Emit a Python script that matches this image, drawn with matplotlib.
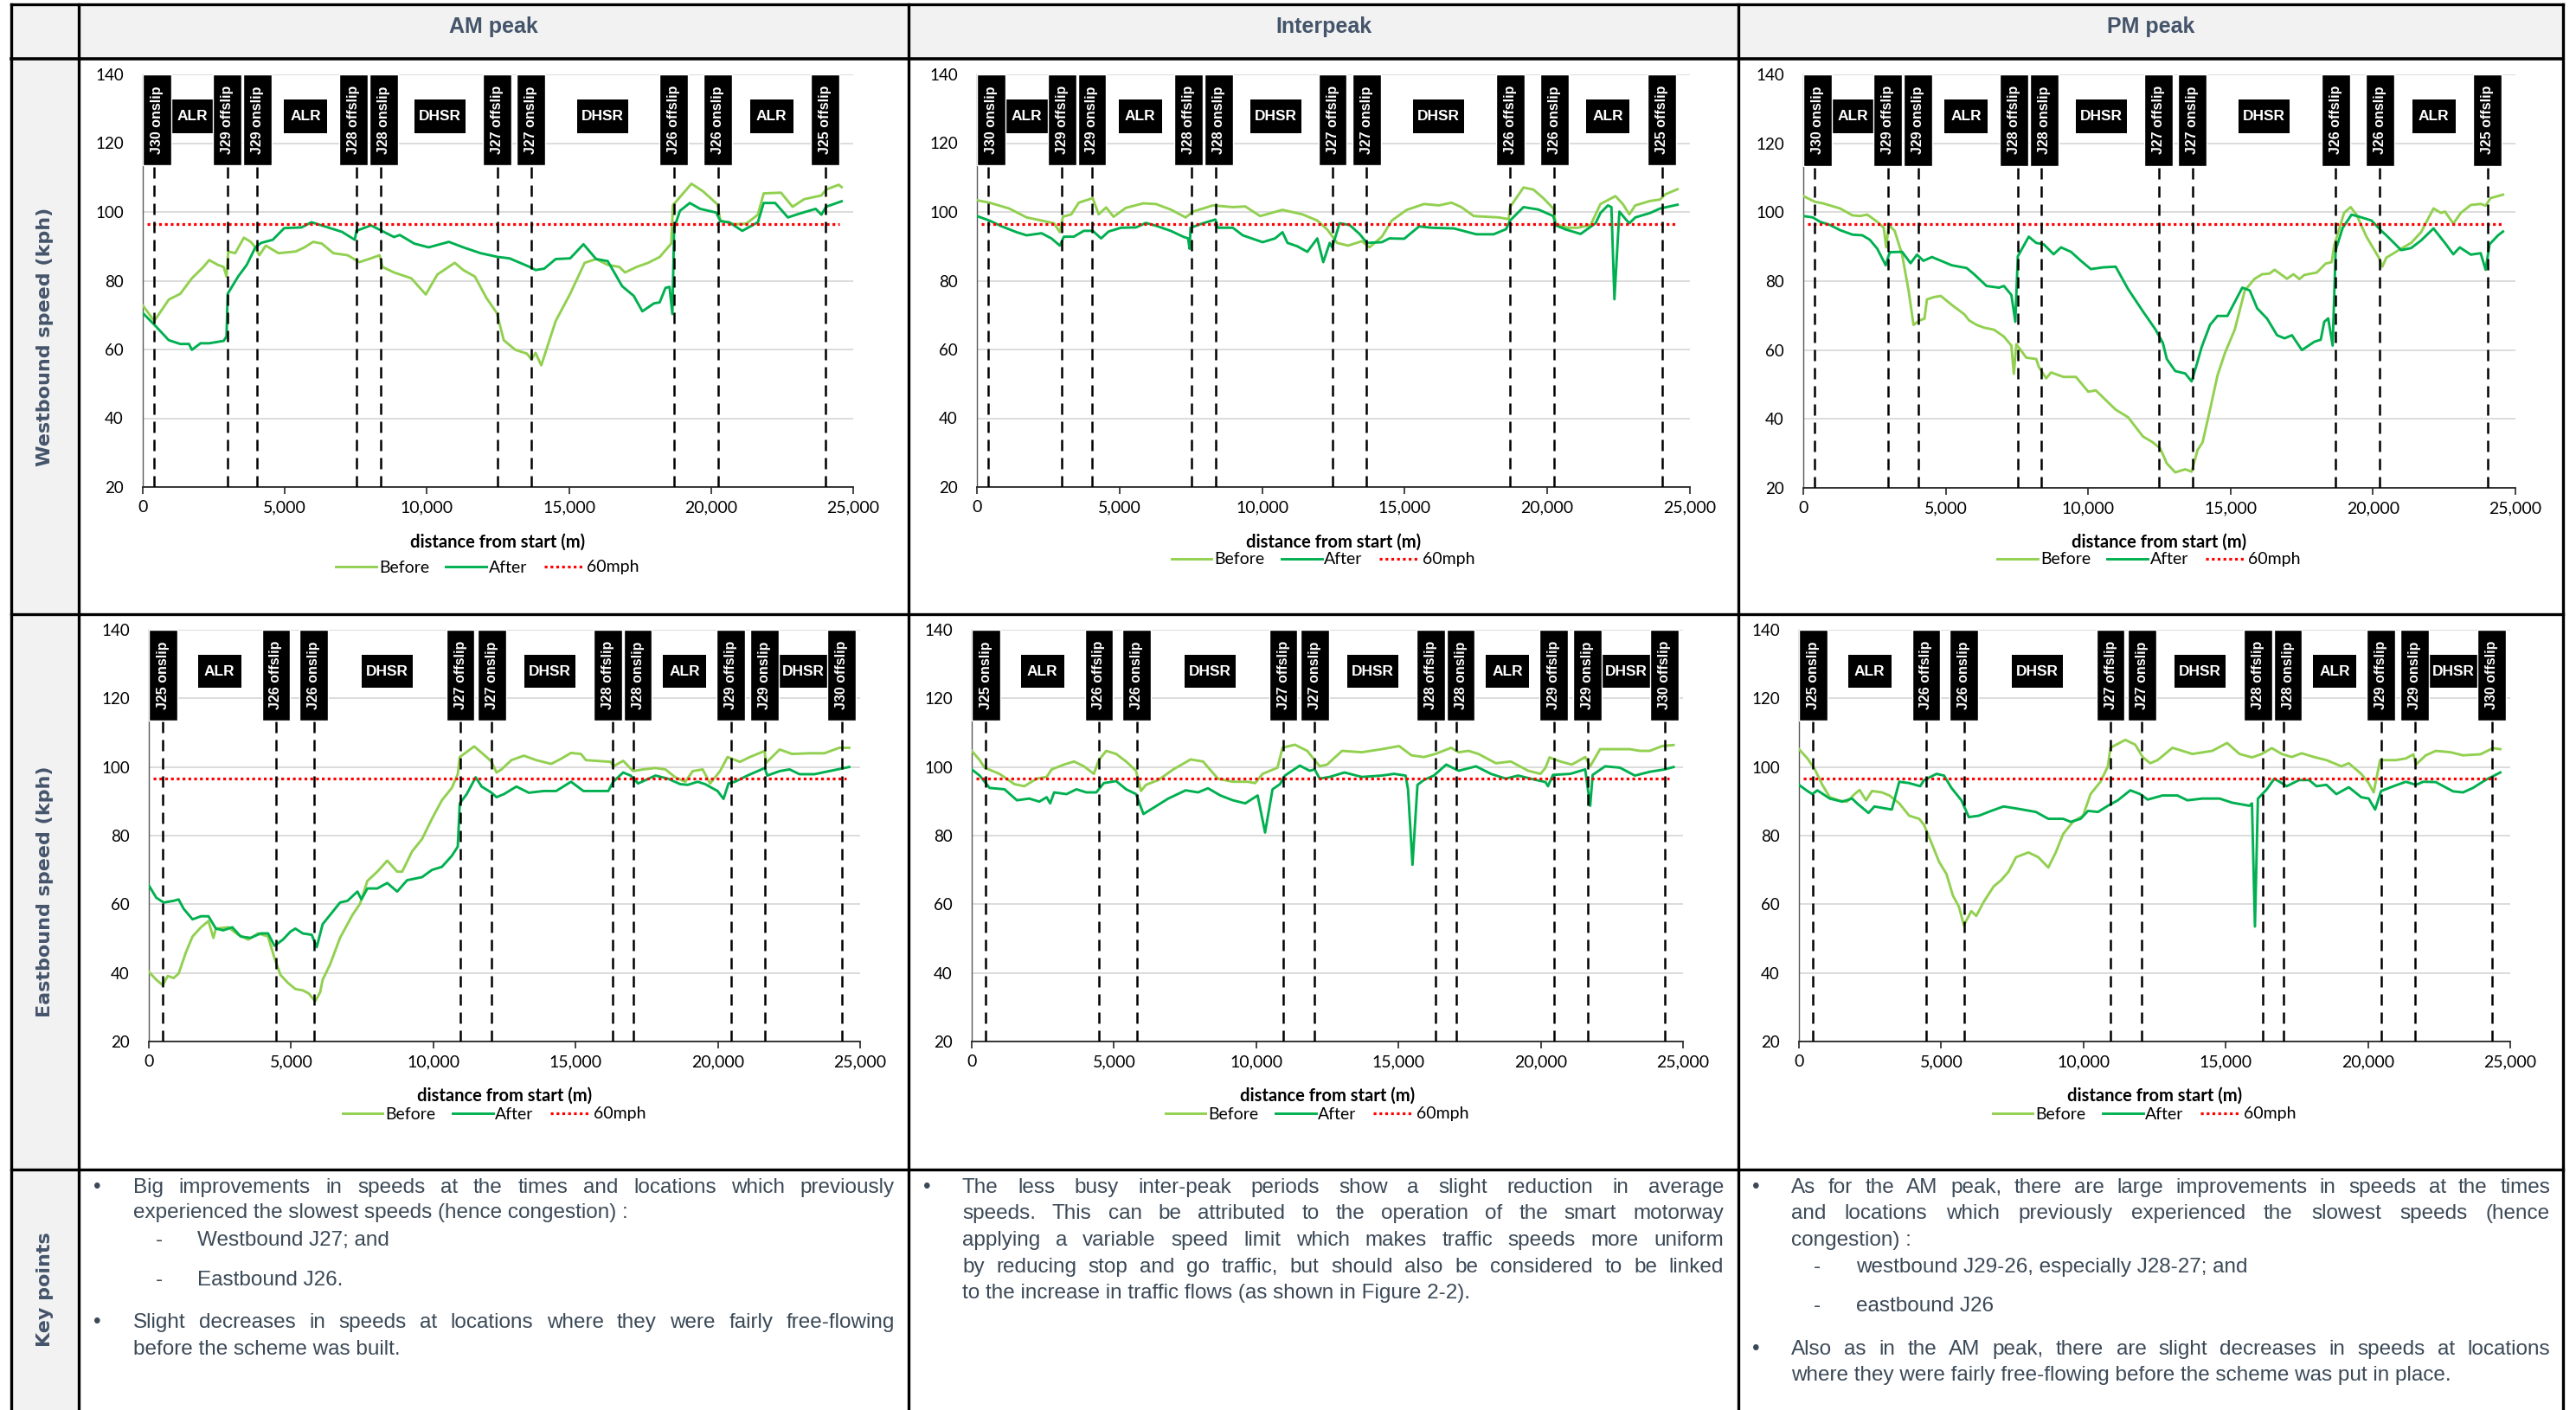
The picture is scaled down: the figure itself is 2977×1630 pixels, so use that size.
import matplotlib
matplotlib.use('Agg')
import matplotlib.pyplot as plt
from matplotlib.patches import Rectangle
from matplotlib.lines import Line2D
from matplotlib.ticker import FuncFormatter
from matplotlib import font_manager

W, H = 2977, 1630

# ------------------------------------------------------------------ data
speed_limit_kph = 96.56  # 60 mph

wb_junctions = [400, 2980, 4030, 7520, 8360, 12470, 13660, 18690, 20240, 24020]
wb_junction_labels = ['J30 onslip', 'J29 offslip', 'J29 onslip', 'J28 offslip', 'J28 onslip',
                      'J27 offslip', 'J27 onslip', 'J26 offslip', 'J26 onslip', 'J25 offslip']
wb_sections = [('ALR', 0, 1), ('ALR', 2, 3), ('DHSR', 4, 5), ('DHSR', 6, 7), ('ALR', 8, 9)]

eb_junctions = [490, 4470, 5800, 10950, 12050, 16290, 17020, 20460, 21650, 24350]
eb_junction_labels = ['J25 onslip', 'J26 offslip', 'J26 onslip', 'J27 offslip', 'J27 onslip',
                      'J28 offslip', 'J28 onslip', 'J29 offslip', 'J29 onslip', 'J30 offslip']
eb_sections = [('ALR', 0, 1), ('DHSR', 2, 3), ('DHSR', 4, 5), ('ALR', 6, 7), ('DHSR', 8, 9)]

column_titles = ['AM peak', 'Interpeak', 'PM peak']
row_titles = ['Westbound speed (kph)', 'Eastbound speed (kph)', 'Key points']
series_names = ['Before', 'After', '60mph']

# Westbound AM
wb_am_before_x = [0, 406, 915, 1321, 1728, 2134, 2337, 2642, 2846, 2947, 3008, 3252, 3557, 3800, 3963, 4100,
                  4330, 4776, 5386, 5691, 5996, 6301, 6707, 7215, 7622, 8028, 8333, 8435, 8841, 9451, 9959,
                  10366, 10976, 11280, 11687, 12093, 12459, 12703, 13110, 13516, 13679, 13821, 14024, 14532,
                  15041, 15549, 15955, 16362, 16768, 16972, 17378, 17785, 18191, 18598, 18659, 18902, 19309,
                  19715, 20224, 20325, 20833, 21240, 21646, 21850, 22459, 22866, 23272, 23882, 24045, 24492, 24593]
wb_am_before_kph = [72.8, 68.3, 74.5, 76.2, 80.7, 84, 86, 84.6, 84, 81.2, 88.5, 88, 92.5, 91.3, 89.7, 87.4,
                    90.2, 88, 88.5, 89.7, 91.3, 90.8, 88, 87.4, 85.4, 86.5, 87.4, 84, 82.4, 80.7, 76,
                    81.8, 85.2, 83.1, 81.2, 75, 70.6, 62.7, 59.9, 58.8, 57.1, 59, 55.4, 68.3,
                    76.2, 85.2, 86.3, 84.6, 84, 82.4, 84, 85.2, 86.9, 90.8, 102, 104.3, 108.2,
                    106, 102.2, 97.5, 96.4, 96.6, 99.2, 105.4, 105.6, 101.5, 103.7, 104.8, 106.5, 107.9, 107.2]
wb_am_after_x = [0, 406, 915, 1321, 1626, 1728, 2033, 2337, 2846, 2947, 2988, 3354, 3659, 3963, 4167, 4573,
                 4980, 5589, 5935, 6402, 7012, 7459, 7520, 8028, 8435, 8841, 9045, 9553, 10061, 10772, 11280,
                 11890, 12500, 12906, 13618, 13821, 14126, 14532, 15041, 15508, 15955, 16362, 16870, 17276,
                 17581, 17988, 18191, 18394, 18537, 18638, 18699, 18902, 19248, 19614, 20183, 20325, 20630,
                 21098, 21646, 21850, 22256, 22703, 23069, 23679, 23882, 24045, 24593]
wb_am_after_kph = [70.6, 67.2, 62.7, 61.6, 61.6, 59.9, 61.8, 61.8, 62.5, 63.8, 76.2, 81.2, 84.6, 89.7, 91, 91.9,
                   95.3, 95.5, 97, 95.8, 94.2, 91.9, 94.5, 96.1, 94.4, 92.7, 93.3, 90.8, 89.7, 91.3, 89.7,
                   88, 86.9, 86.5, 84, 83.1, 83.5, 86.3, 86.5, 90.6, 86.3, 85.7, 78.4, 75.6,
                   71.1, 73.4, 73.7, 77.9, 78.2, 70.3, 95.3, 100.3, 102.6, 100.9, 99.8, 97.3, 97,
                   94.5, 97, 102.6, 102.6, 98.4, 99.4, 100.9, 99.2, 101.5, 103.1]

# Westbound Interpeak
wb_ip_before_x = [0, 436, 1132, 1742, 2265, 2700, 2909, 3014, 3310, 3571, 4059, 4268, 4530, 4791, 5226, 5836,
                  6272, 6794, 7317, 7578, 8275, 8972, 9408, 9930, 10714, 11411, 11934, 12282, 12631, 13014,
                  13502, 13763, 14199, 14547, 15070, 15679, 16202, 16638, 16986, 17422, 17857, 18293, 18641,
                  18693, 19164, 19512, 19861, 20209, 20296, 20732, 21080, 21516, 21864, 22387, 22648, 22875,
                  23084, 23606, 23955, 24129, 24564]
wb_ip_before_kph = [103.4, 102.7, 101, 98.4, 97.5, 96.7, 94.1, 98.6, 99.3, 102.7, 104, 99.3, 101.3, 98.6, 101.2, 102.5,
                    102.3, 100.7, 98.4, 100.1, 101.9, 101.4, 101.6, 98.8, 100.6, 99.3, 97.5, 94.9, 91, 90.2,
                    91.5, 89.7, 92.8, 97.5, 100.6, 102.3, 101.9, 102.7, 101.4, 98.8, 98.6, 98.4, 97.9,
                    101.4, 107.1, 106.5, 104, 101, 96.4, 95.4, 95.4, 96.2, 102.3, 104.6, 102.3, 99.3,
                    101.9, 103.2, 103.6, 105.1, 106.6]
wb_ip_after_x = [0, 436, 871, 1394, 1742, 2265, 2613, 2909, 3049, 3397, 3746, 4059, 4355, 4617, 5052, 5575,
                 5923, 6272, 6794, 7230, 7404, 7456, 7491, 7927, 8362, 8449, 8972, 9321, 10017, 10453, 10714,
                 10889, 11237, 11585, 11934, 12143, 12369, 12456, 12718, 13066, 13415, 13676, 14199, 14460,
                 14983, 15505, 15941, 16725, 17509, 18118, 18554, 18693, 19164, 19686, 20209, 20296, 20645,
                 21167, 21690, 21864, 22125, 22247, 22352, 22526, 22735, 22875, 23084, 23606, 23955, 24564]
wb_ip_after_kph = [98.8, 97.5, 95.8, 94.1, 93.2, 93.8, 92.3, 90.2, 92.8, 92.8, 94.5, 94.5, 92.3, 94.3, 95.4, 95.5,
                   96.8, 96, 94.5, 92.8, 92.3, 89.3, 95.4, 96.7, 97.8, 95.4, 95.4, 93.2, 91.2, 92.3, 94.1,
                   91, 90, 88.4, 92.3, 85.4, 91, 89.7, 96.7, 96.2, 93.6, 91, 91.2, 92.3,
                   92.2, 95.8, 95.4, 95.2, 93.5, 93.5, 95, 97.5, 101.4, 100.7, 98.8, 96.1, 94.9,
                   93.6, 96.7, 99.7, 101.9, 101.4, 74.6, 100.1, 98, 96.7, 98.4, 99.7, 101, 102.1]

# Westbound PM
wb_pm_before_x = [0, 244, 418, 680, 1290, 1726, 1987, 2249, 2598, 2824, 2911, 2999, 3208, 3469, 3696, 3870,
                  4079, 4254, 4341, 4603, 4829, 5213, 5649, 5823, 6085, 6346, 6695, 7043, 7305, 7392, 7479,
                  7828, 8176, 8264, 8525, 8699, 9135, 9571, 10007, 10269, 10704, 10966, 11402, 11925, 12274,
                  12535, 12762, 13058, 13407, 13633, 13842, 14017, 14278, 14540, 14801, 15150, 15499, 15847,
                  16109, 16370, 16545, 16980, 17207, 17416, 17591, 18026, 18340, 18549, 18636, 18985, 19212,
                  19421, 19770, 20206, 20328, 20467, 20903, 21339, 21688, 22123, 22385, 22524, 22820, 23082,
                  23431, 23780, 23954, 24128, 24564]
wb_pm_before_kph = [104.7, 103.7, 103, 102.6, 101.1, 99.1, 98.9, 99.3, 97.2, 95.5, 89.8, 96.3, 94.6, 87.7, 77.3, 67.3,
                    68.6, 69.1, 74.7, 75.4, 75.7, 73.1, 70.4, 68.6, 67.3, 66.5, 65.9, 63.9, 61.3, 53.1, 61.7,
                    57.8, 57.4, 55.2, 51.8, 53.5, 52.2, 52.2, 47.9, 48.3, 44.8, 42.7, 40.5, 34.9, 33.2,
                    31.4, 27.1, 24.5, 25.4, 24.7, 31, 33.2, 42.7, 52.6, 59.1, 66, 77.3, 80.7,
                    82, 82.2, 83.3, 80.7, 82, 80.6, 81.8, 82.5, 85.1, 85.5, 90.3, 99.8, 101.5,
                    99.3, 92.9, 86.8, 84.2, 86.8, 89, 91.1, 94.2, 101.1, 99.8, 100.2, 96.7, 99.8,
                    102.1, 102.4, 101.9, 104.1, 105.1]
wb_pm_after_x = [0, 331, 593, 941, 1290, 1726, 2075, 2336, 2598, 2894, 3033, 3469, 3766, 3992, 4219, 4515,
                 4777, 5213, 5736, 5997, 6433, 6869, 7043, 7305, 7444, 7531, 7915, 8176, 8438, 8787, 9048,
                 9397, 9745, 10094, 10530, 10966, 11402, 11925, 12361, 12622, 12762, 13058, 13407, 13633,
                 13808, 13982, 14278, 14540, 14889, 15412, 15674, 15935, 16283, 16632, 16894, 17155, 17504,
                 17940, 18166, 18288, 18427, 18584, 18689, 18933, 19247, 19595, 19944, 20293, 20467, 20990,
                 21339, 21688, 22123, 22524, 22820, 23047, 23431, 23780, 23954, 24093, 24390, 24564]
wb_pm_after_kph = [98.9, 98.5, 97.2, 96.3, 94.8, 93.5, 93.3, 92, 89.4, 84.6, 88.4, 88.5, 85.2, 87.7, 85.9, 87,
                   86.1, 84.6, 83.8, 82, 78.6, 78.1, 78.6, 76, 68.2, 87.2, 92.9, 91.1, 90.7, 87.8, 89.8,
                   88.5, 85.9, 83.5, 84, 84.2, 77.7, 71.2, 66, 62.1, 57.4, 53.9, 53.2, 50.9,
                   55.7, 60.8, 67.3, 69.9, 69.9, 78.1, 77.3, 72.1, 69.1, 64.3, 63.4, 64.3, 60,
                   62.4, 63, 68.2, 69.2, 61.3, 89, 95.4, 99.3, 98.5, 97.6, 94.6, 93.3, 89,
                   89.6, 91.8, 95.3, 91.1, 87.8, 89.8, 87.7, 88.1, 83.3, 90.7, 93.3, 94.4]

# Eastbound AM
eb_am_before_x = [0, 262, 489, 663, 873, 1047, 1309, 1536, 1833, 2095, 2270, 2357, 2793, 3142, 3492, 3841,
                  4190, 4417, 4626, 4888, 5150, 5412, 5621, 5848, 6023, 6110, 6372, 6721, 7158, 7420, 7682,
                  8031, 8380, 8729, 8904, 9253, 9602, 9951, 10300, 10649, 10859, 10929, 11435, 11871, 12046,
                  12221, 12395, 12745, 13181, 13617, 14141, 14490, 14839, 15188, 15363, 15887, 16236, 16323,
                  16673, 17022, 17371, 17807, 18156, 18505, 18855, 19117, 19466, 19728, 20077, 20339, 20775,
                  21125, 21648, 21683, 22172, 22608, 23219, 23743, 24267, 24616]
eb_am_before_kph = [40.3, 38, 36.4, 39.1, 38.5, 39.8, 46.1, 50.6, 53.3, 55.1, 50.2, 52.9, 53.3, 51.1, 49.7, 51.5,
                    50.6, 44.3, 39.4, 37.1, 35.3, 34.9, 34, 31.7, 34.4, 38, 42.5, 50.2, 56.9, 60.1, 66.8,
                    69.5, 72.7, 69.5, 69.5, 75.4, 79, 84.9, 90.3, 93.9, 97.9, 102.9, 106, 102.9, 101.5,
                    98.4, 99.3, 102, 103.3, 102, 100.9, 102.4, 104.1, 103.8, 102, 101.7, 101.5, 100.2,
                    101.8, 98.8, 99.3, 99.7, 99.3, 97, 95.7, 98.8, 99.3, 95.2, 98.8, 102.9, 101.5,
                    102.9, 104.7, 101.1, 105.1, 103.8, 104, 104, 105.6, 105.6]
eb_am_after_x = [0, 262, 524, 873, 1047, 1222, 1536, 1833, 2095, 2357, 2619, 2933, 3230, 3579, 3928, 4190,
                 4417, 4714, 4976, 5150, 5412, 5726, 5901, 6110, 6372, 6721, 6983, 7332, 7472, 7682, 8031,
                 8380, 8729, 9078, 9602, 9951, 10300, 10649, 10859, 10929, 11173, 11488, 11697, 12046, 12221,
                 12483, 12919, 13355, 13879, 14316, 14839, 15276, 15887, 16149, 16323, 16673, 16934, 17196,
                 17807, 18243, 18680, 18942, 19291, 19553, 19990, 20199, 20374, 20600, 21037, 21648, 21736,
                 22172, 22521, 22870, 23394, 23918, 24616]
eb_am_after_kph = [65.5, 61.9, 60.5, 61, 61.4, 58.7, 55.6, 56.5, 56.5, 52.9, 52.4, 53.3, 50.6, 50.2, 51.5, 51.5,
                   47.9, 49.7, 52, 52.9, 51.5, 51.1, 47.5, 54.2, 56.9, 60.5, 61, 63.7, 61.4, 64.6, 64.6,
                   66.2, 63.7, 67, 67.9, 70, 70.9, 74.1, 76.8, 89.4, 92.1, 97, 94.3, 92.5, 91.2,
                   92.1, 94.3, 92.5, 93, 93, 95.7, 93, 93, 93, 95.7, 98.4, 97.5, 95.2,
                   97.5, 96.6, 95, 94.8, 95.7, 95, 93, 90.7, 95.2, 95.7, 97.5, 99.7, 97.5,
                   98.8, 99.3, 97.9, 97.9, 98.8, 100]

# Eastbound Interpeak
eb_ip_before_x = [0, 279, 454, 977, 1500, 1849, 2285, 2634, 2809, 3245, 3594, 3943, 4292, 4466, 4728, 5077,
                  5426, 5775, 5949, 6123, 6560, 7083, 7694, 8130, 8654, 9177, 9700, 9962, 10223, 10747, 10921,
                  11357, 11793, 12055, 12229, 12491, 13015, 13712, 14410, 15021, 15457, 15893, 16294, 16852,
                  17114, 17463, 17812, 18423, 18946, 19557, 19993, 20167, 20307, 20691, 21092, 21563, 21737,
                  22086, 22610, 23133, 23482, 23831, 24267, 24669]
eb_ip_before_kph = [104.7, 102, 99.8, 98, 95, 94.4, 96.6, 97.1, 99.3, 100.7, 101.6, 100.2, 98, 102, 104.7, 103.8,
                    101.6, 98.9, 93, 94.8, 96.2, 99.3, 102.2, 101.6, 96.6, 95.7, 95.7, 95.3, 98, 99.8, 105.6,
                    106.5, 104.7, 102, 100.2, 100.7, 104.7, 104.3, 105.2, 106.1, 103.4, 102.9, 103.8, 105.6,
                    104.3, 104.7, 103.8, 101.1, 101.6, 98.9, 98, 99.8, 102.8, 101.6, 100.7, 102.9, 100.2,
                    105.2, 105.2, 105.2, 104.7, 104.7, 106.1, 106.4]
eb_ip_after_x = [0, 279, 628, 1151, 1588, 2024, 2373, 2634, 2756, 2896, 3332, 3681, 4030, 4379, 4641, 5077,
                 5426, 5775, 6036, 6385, 6908, 7519, 7955, 8304, 8740, 9177, 9613, 10049, 10310, 10572, 10834,
                 11008, 11531, 11880, 12055, 12229, 12578, 13102, 13712, 14410, 14846, 15248, 15335, 15492,
                 15667, 15893, 16242, 16678, 17114, 17725, 18249, 18772, 19208, 19644, 20167, 20254, 20429,
                 21040, 21563, 21737, 21825, 22261, 22784, 23308, 23831, 24354, 24669]
eb_ip_after_kph = [99.3, 97.5, 93.9, 93.5, 90.3, 90.8, 89.9, 91.2, 89.4, 92.6, 92.1, 93.5, 92.6, 92.6, 95.3, 95.9,
                   93.5, 92.1, 86.3, 88.1, 90.8, 93.2, 92.6, 93.8, 91.7, 90.3, 89.4, 91.7, 80.9, 93.5, 95,
                   97.5, 100.4, 98.9, 99.3, 96.6, 97.1, 98.4, 97.1, 97.5, 98, 97.5, 93.5, 71.5,
                   94.8, 96.2, 97.5, 100.7, 98.9, 100.2, 98, 96.6, 97.5, 96.6, 95.6, 94.4, 97.7,
                   98, 99.3, 88.7, 97.7, 100.2, 99.8, 97.5, 98.6, 99.3, 100]

# Eastbound PM
eb_pm_before_x = [0, 297, 559, 821, 1082, 1432, 1693, 1955, 2130, 2357, 2566, 2915, 3177, 3526, 3876, 4225,
                  4399, 4661, 4923, 5185, 5412, 5621, 5796, 6058, 6233, 6494, 6844, 7105, 7367, 7629, 8066,
                  8415, 8764, 9026, 9288, 9637, 9986, 10248, 10597, 10859, 10946, 11470, 11819, 12081, 12343,
                  12605, 13128, 13827, 14525, 15049, 15485, 15922, 16271, 16620, 16969, 17318, 17668, 18104,
                  18540, 19064, 19326, 19763, 20025, 20199, 20426, 20985, 21334, 21596, 21683, 22032, 22381,
                  22905, 23341, 23953, 24389, 24651]
eb_pm_before_kph = [105.2, 102.5, 99.3, 94.8, 91.2, 90.2, 89.9, 92.1, 93.3, 90.3, 93, 92.6, 91.7, 89.4, 85.8, 84.9,
                    83.1, 77.8, 72.4, 68.8, 62.5, 59.3, 53.9, 58, 56.6, 60.7, 65.2, 67, 69.5, 73.7, 75.1,
                    73.7, 70.7, 75.1, 80.5, 84.1, 85.8, 92.1, 95.7, 100.2, 105.6, 107.9, 106.5, 102.9, 101.1,
                    102, 105.6, 103.8, 104.7, 107, 103.8, 102.8, 103.8, 105.5, 103.8, 102.9, 104, 102.9,
                    102, 100.2, 101.1, 98, 95.3, 92.6, 102, 102, 102.5, 103.7, 100.7, 103.4, 104.7,
                    104.3, 103.4, 103.7, 105.5, 105.2]
eb_pm_after_x = [0, 297, 471, 646, 1082, 1519, 1868, 2043, 2444, 2654, 2915, 3264, 3526, 3876, 4260, 4399,
                 4836, 5098, 5360, 5709, 5971, 6320, 6756, 7193, 7716, 8327, 8764, 9288, 9550, 9899, 10161,
                 10510, 10859, 11208, 11645, 11994, 12256, 12779, 13303, 13652, 14176, 14787, 15223, 15834,
                 15922, 16027, 16131, 16445, 16707, 16969, 17144, 17580, 17929, 18191, 18540, 18889, 19326,
                 19763, 20025, 20251, 20461, 20897, 21334, 21683, 21945, 22381, 22992, 23341, 23690, 24127, 24651]
eb_pm_after_kph = [94.8, 93, 92.1, 93.2, 90.8, 89.9, 90.8, 89.4, 86.6, 88.5, 88.1, 87.6, 95.7, 95.3, 94.4, 96.2,
                   98, 97.5, 93.9, 90.3, 85.4, 85.8, 87.2, 88.5, 87.8, 86.9, 84.9, 84.9, 84, 84.9, 87.2,
                   86.9, 88.7, 90.3, 93.2, 92.1, 90.5, 91.7, 91.7, 90.3, 90.8, 90.8, 89.6, 88.7,
                   89.4, 53.5, 90.8, 93.5, 96.6, 95.3, 94.4, 96.2, 96.2, 94.4, 94.8, 92.1, 94.1,
                   91.2, 90.8, 87.6, 93, 94.4, 95.7, 94.8, 95.7, 95.6, 92.9, 92.6, 93.9, 96.2, 98.4]

key_points = [
    [('bullet', 'Big improvements in speeds at the times and locations which previously', True),
     ('cont', 'experienced the slowest speeds (hence congestion) :', False),
     ('dash', 'Westbound J27; and', False),
     ('dash', 'Eastbound J26.', False),
     ('bullet', 'Slight decreases in speeds at locations where they were fairly free-flowing', True),
     ('cont', 'before the scheme was built.', False)],
    [('bullet', 'The less busy inter-peak periods show a slight reduction in average', True),
     ('cont', 'speeds. This can be attributed to the operation of the smart motorway', True),
     ('cont', 'applying a variable speed limit which makes traffic speeds more uniform', True),
     ('cont', 'by reducing stop and go traffic, but should also be considered to be linked', True),
     ('cont', 'to the increase in traffic flows (as shown in Figure 2-2).', False)],
    [('bullet', 'As for the AM peak, there are large improvements in speeds at the times', True),
     ('cont', 'and locations which previously experienced the slowest speeds (hence', True),
     ('cont', 'congestion) :', False),
     ('dash', 'westbound J29-26, especially J28-27; and', False),
     ('dash', 'eastbound J26', False),
     ('bullet', 'Also as in the AM peak, there are slight decreases in speeds at locations', True),
     ('cont', 'where they were fairly free-flowing before the scheme was put in place.', False)],
]

# ------------------------------------------------------------------ style
installed = {f.name for f in font_manager.fontManager.ttflist}
NARROW = 'Liberation Sans Narrow' if 'Liberation Sans Narrow' in installed else None
ARIAL = 'Liberation Sans'
TICKF = 'Lato' if 'Lato' in installed else 'DejaVu Sans'
SLATE = '#44546a'
TEXTC = '#3b4957'
C_BEFORE = '#92d050'
C_AFTER = '#00b050'

fig = plt.figure(figsize=(W / 100, H / 100), dpi=100)
fig.patch.set_facecolor('white')


def fx(x):
    return x / W


def fy(y):
    return 1 - y / H


# ------------------------------------------------------------------ table frame
col_x = [13, 91, 1050, 2009, 2962]
row_y = [5, 68, 710, 1352, 1630]
fig.add_artist(Rectangle((fx(col_x[0]), fy(row_y[1])), fx(col_x[-1]) - fx(col_x[0]),
                         fy(row_y[0]) - fy(row_y[1]), transform=fig.transFigure,
                         facecolor='#f2f2f2', edgecolor='none', zorder=0))
fig.add_artist(Rectangle((fx(col_x[0]), fy(row_y[-1])), fx(col_x[1]) - fx(col_x[0]),
                         fy(row_y[0]) - fy(row_y[-1]), transform=fig.transFigure,
                         facecolor='#f2f2f2', edgecolor='none', zorder=0))
for x in col_x:
    fig.add_artist(Line2D([fx(x), fx(x)], [fy(row_y[0]), fy(row_y[-1])], transform=fig.transFigure,
                          color='black', lw=2.4, zorder=1))
for y in row_y[:-1]:
    fig.add_artist(Line2D([fx(col_x[0]), fx(col_x[-1])], [fy(y), fy(y)], transform=fig.transFigure,
                          color='black', lw=2.6 if y == row_y[1] else 2.4, zorder=1))

for i, t in enumerate(column_titles):
    fig.text(fx((col_x[i + 1] + col_x[i + 2]) / 2), fy(31), t, ha='center', va='center',
             fontsize=18, fontweight='bold', color=SLATE, family=ARIAL)
for i, t in enumerate(row_titles):
    fig.text(fx(52), fy((row_y[i + 1] + row_y[i + 2]) / 2), t, ha='center', va='center',
             rotation=90, fontsize=16, fontweight='bold', color=SLATE, family='DejaVu Sans')

# ------------------------------------------------------------------ panels
panels = [
    (wb_am_before_x, wb_am_before_kph, wb_am_after_x, wb_am_after_kph, 'wb', (165, 986, 86, 563), 627, 656),
    (wb_ip_before_x, wb_ip_before_kph, wb_ip_after_x, wb_ip_after_kph, 'wb', (1129, 1953, 86, 563), 627, 647),
    (wb_pm_before_x, wb_pm_before_kph, wb_pm_after_x, wb_pm_after_kph, 'wb', (2084, 2907, 86, 564), 627, 647),
    (eb_am_before_x, eb_am_before_kph, eb_am_after_x, eb_am_after_kph, 'eb', (172, 994, 728, 1204), 1267, 1288),
    (eb_ip_before_x, eb_ip_before_kph, eb_ip_after_x, eb_ip_after_kph, 'eb', (1123, 1945, 728, 1204), 1267, 1288),
    (eb_pm_before_x, eb_pm_before_kph, eb_pm_after_x, eb_pm_after_kph, 'eb', (2079, 2901, 728, 1204), 1267, 1288),
]

BOX_W = 1000
BOX_BOTTOM, BOX_TOP = 113.5, 140
SEC_BOTTOM, SEC_TOP = 123.0, 132.7
SEC_W = {'ALR': 1520, 'DHSR': 1790}

for bx, by, axx, ayy, direction, (x0, x1, yt, yb), xlab_y, leg_y in panels:
    ax = fig.add_axes([fx(x0), fy(yb), fx(x1) - fx(x0), fy(yt) - fy(yb)])
    ax.set_xlim(0, 25000)
    ax.set_ylim(20, 140)
    ax.set_xticks(range(0, 25001, 5000))
    ax.set_yticks(range(20, 141, 20))
    ax.xaxis.set_major_formatter(FuncFormatter(lambda v, p: f'{int(v):,}'))
    ax.grid(axis='y', color='#d9d9d9', lw=1.3)
    ax.set_axisbelow(True)
    for s in ('top', 'right'):
        ax.spines[s].set_visible(False)
    ax.spines['bottom'].set_color('#262626')
    ax.spines['bottom'].set_linewidth(1.3)
    ax.spines['left'].set_color('#595959')
    ax.spines['left'].set_linewidth(1.0)
    ax.tick_params(axis='x', length=6, width=1.2, color='#262626', pad=5, labelsize=14)
    ax.tick_params(axis='y', length=0, pad=16, labelsize=13.5)
    for lab in ax.get_xticklabels() + ax.get_yticklabels():
        lab.set_family(TICKF)
        lab.set_color('black')

    l_before, = ax.plot(bx, by, color=C_BEFORE, lw=2.1, zorder=3)
    l_after, = ax.plot(axx, ayy, color=C_AFTER, lw=2.1, zorder=4)
    l_limit, = ax.plot([150, 24500], [speed_limit_kph, speed_limit_kph], color='#ff0000', lw=2.3,
                       linestyle=(0, (1, 1.1)), zorder=5)

    junctions = wb_junctions if direction == 'wb' else eb_junctions
    jlabels = wb_junction_labels if direction == 'wb' else eb_junction_labels
    sections = wb_sections if direction == 'wb' else eb_sections

    ax.vlines(junctions, 20, BOX_BOTTOM, colors='black', lw=1.8, linestyles=(0, (5.2, 3.2)), zorder=6)

    centers = [float(j) for j in junctions]
    for i in range(len(centers) - 1):
        need = BOX_W + 60
        gap = centers[i + 1] - centers[i]
        if gap < need:
            d = (need - gap) / 2
            centers[i] -= d
            centers[i + 1] += d
    centers[0] = max(centers[0], BOX_W / 2)
    centers[-1] = min(centers[-1], 25000 - BOX_W / 2)

    for (name, i, j) in sections:
        left = centers[i] + BOX_W / 2
        right = centers[j] - BOX_W / 2
        c = (left + right) / 2
        w = SEC_W[name]
        ax.add_patch(Rectangle((c - w / 2, SEC_BOTTOM), w, SEC_TOP - SEC_BOTTOM, facecolor='black',
                               edgecolor='none', zorder=7, clip_on=False))
        if NARROW:
            ax.text(c, (SEC_BOTTOM + SEC_TOP) / 2, name, color='white', ha='center', va='center',
                    fontsize=14, fontweight='bold', family=NARROW, zorder=9)
        else:
            ax.text(c, (SEC_BOTTOM + SEC_TOP) / 2, name, color='white', ha='center', va='center',
                    fontsize=12.5, fontweight='bold', family=ARIAL, zorder=9)

    for c, lab in zip(centers, jlabels):
        ax.add_patch(Rectangle((c - BOX_W / 2, BOX_BOTTOM), BOX_W, BOX_TOP - BOX_BOTTOM, facecolor='black',
                               edgecolor='white', lw=1.0, zorder=8, clip_on=False))
        ax.text(c, (BOX_BOTTOM + BOX_TOP) / 2, lab, rotation=90, color='white', ha='center', va='center',
                fontsize=11.5, fontweight='bold', family=ARIAL, zorder=9)

    ax.set_xlabel('distance from start (m)', fontsize=14.5, fontweight='bold', family=TICKF)
    ax.xaxis.set_label_coords(0.5, -(xlab_y - yb) / (yb - yt))
    ax.xaxis.label.set_verticalalignment('center')

    leg = ax.legend([l_before, l_after, l_limit], series_names, loc='center',
                    bbox_to_anchor=(fx((x0 + x1) / 2 - 12), fy(leg_y)), bbox_transform=fig.transFigure,
                    ncol=3, frameon=False, handlelength=2.4, handletextpad=0.15, columnspacing=1.0,
                    borderaxespad=0, prop={'family': TICKF, 'size': 14})

# ------------------------------------------------------------------ key points
renderer = fig.canvas.get_renderer()
kp_style = dict(fontsize=17.5, family=ARIAL, color=TEXTC)


def text_width(s):
    t = fig.text(0, 0, s, **kp_style)
    w = t.get_window_extent(renderer=renderer).width
    t.remove()
    return w


def put_line(s, x_left, x_right, y_center, justify):
    yb_ = fy(y_center + 8)
    if not justify:
        fig.text(fx(x_left), yb_, s, ha='left', va='baseline', **kp_style)
        return
    words = s.split(' ')
    widths = [text_width(w_) for w_ in words]
    gap = (x_right - x_left - sum(widths)) / (len(words) - 1)
    x = x_left
    for w_, wd in zip(words, widths):
        fig.text(fx(x), yb_, w_, ha='left', va='baseline', **kp_style)
        x += wd + gap


kp_layout = [
    dict(bullet_x=112, text_x=154, dash_x=184, dash_text_x=228, right=1034,
         ys=[1371, 1400, 1432, 1478, 1527, 1558]),
    dict(bullet_x=1071, text_x=1112, dash_x=1140, dash_text_x=1185, right=1992,
         ys=[1371, 1401, 1432, 1463, 1493]),
    dict(bullet_x=2029, text_x=2070, dash_x=2100, dash_text_x=2145, right=2947,
         ys=[1371, 1401, 1432, 1463, 1508, 1558, 1588]),
]

for col, lay in zip(key_points, kp_layout):
    for (kind, s, just), y in zip(col, lay['ys']):
        if kind == 'bullet':
            fig.text(fx(lay['bullet_x']), fy(y + 8), '\u2022', ha='center', va='baseline', **kp_style)
            put_line(s, lay['text_x'], lay['right'], y, just)
        elif kind == 'cont':
            put_line(s, lay['text_x'], lay['right'], y, just)
        else:
            fig.text(fx(lay['dash_x']), fy(y + 8), '-', ha='center', va='baseline', **kp_style)
            put_line(s, lay['dash_text_x'], lay['right'], y, just)

fig.savefig('out.png', dpi=100, facecolor='white')
